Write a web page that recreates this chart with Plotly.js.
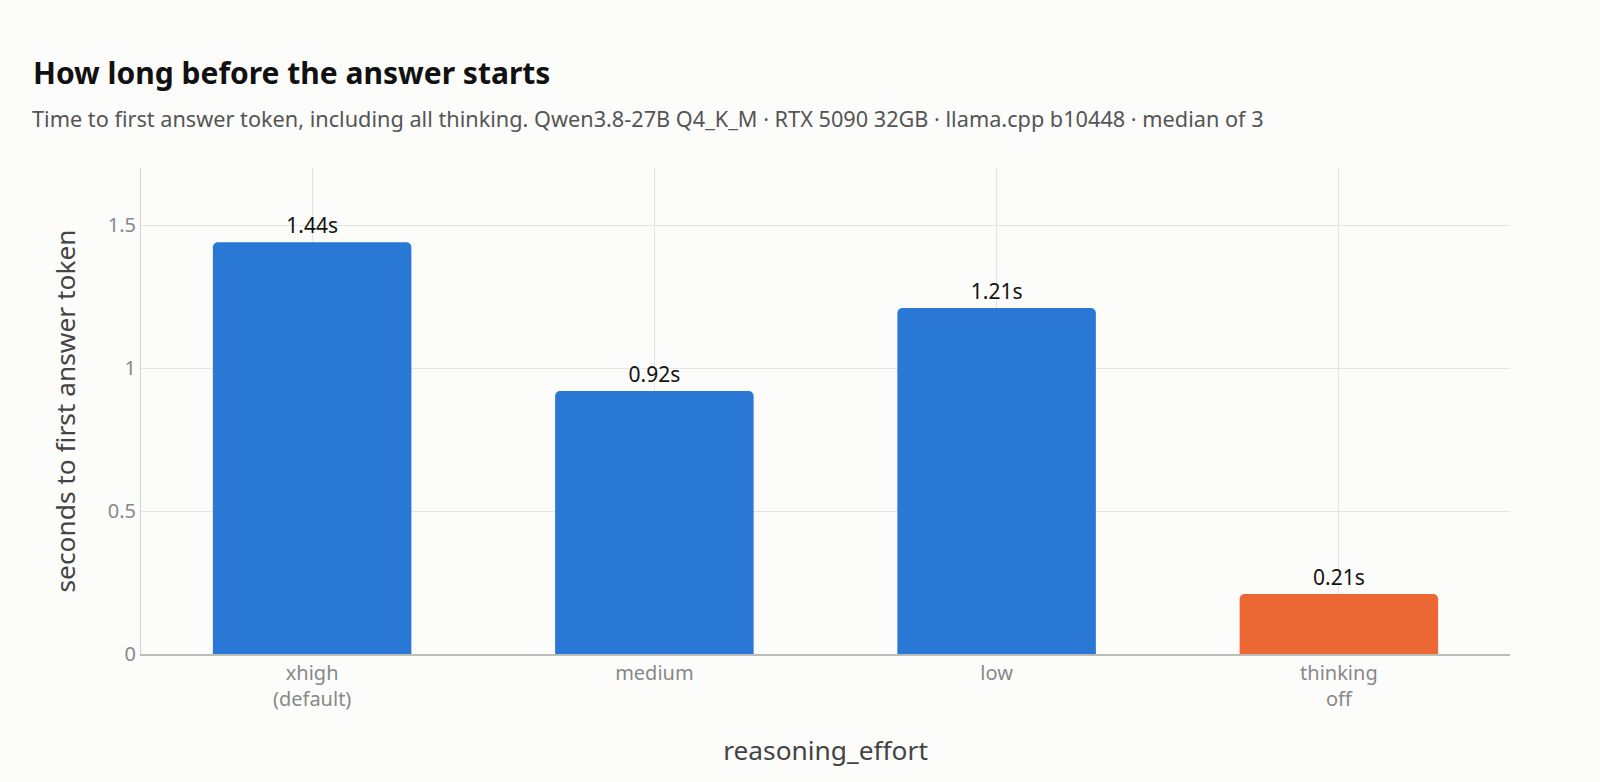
<!DOCTYPE html>
<html>
<head>
<meta charset="utf-8">
<script src="https://cdn.plot.ly/plotly-3.0.1.min.js"></script>
<style>
  html, body { margin: 0; padding: 0; background: #fcfcfb; overflow: hidden; }
  #plot { width: 1600px; height: 782px; }
</style>
</head>
<body>
<div id="plot"></div>
<script>
// categories and median time to first answer token (seconds)
var efforts = ['xhigh<br>(default)', 'medium', 'low', 'thinking<br>off'];
var seconds = [1.44, 0.92, 1.21, 0.21];
var barColors = ['#2a78d6', '#2a78d6', '#2a78d6', '#eb6834'];

var subtitle = 'Time to first answer token, including all thinking. Qwen3.8-27B Q4_K_M · RTX 5090 32GB · llama.cpp b10448 · median of 3';
var font = '"Segoe UI", "Noto Sans", "Open Sans", sans-serif';

var data = [{
  type: 'bar',
  x: efforts,
  y: seconds,
  marker: { color: barColors },
  texttemplate: '%{y:.2f}s',
  textposition: 'outside',
  textfont: { size: 21, color: '#111' },
  cliponaxis: false,
  hoverinfo: 'x+y'
}];

var layout = {
  width: 1600,
  height: 782,
  paper_bgcolor: '#fcfcfb',
  plot_bgcolor: '#fcfcfb',
  font: { family: font, color: '#444' },
  margin: { l: 141, r: 90, t: 168, b: 128 },
  bargap: 0.42,
  barcornerradius: 5,
  showlegend: false,
  title: {
    text: '<b>How long before the answer starts</b>',
    font: { size: 30, color: '#111' },
    xref: 'container', x: 33 / 1600, xanchor: 'left',
    yref: 'container', y: 0.906, yanchor: 'middle'
  },
  // subtitle sits under the title, left-aligned with it
  annotations: [{
    text: subtitle,
    xref: 'paper', yref: 'paper',
    x: -0.0812, y: 1.102,
    xanchor: 'left', yanchor: 'middle',
    showarrow: false,
    font: { size: 21.7, color: '#555' }
  }],
  xaxis: {
    type: 'category',
    showgrid: true,
    gridcolor: '#e3e3e0',
    showline: true,
    linecolor: '#bdbdb8',
    linewidth: 1.5,
    ticks: '',
    tickfont: { size: 20, color: '#888' },
    title: { text: 'reasoning_effort', font: { size: 26.3, color: '#444' }, standoff: 31 }
  },
  yaxis: {
    range: [0, 1.7],
    tickvals: [0, 0.5, 1, 1.5],
    ticktext: ['0', '0.5', '1', '1.5'],
    showgrid: true,
    gridcolor: '#e3e3e0',
    zeroline: false,
    showline: true,
    linecolor: '#d0d0cc',
    linewidth: 1,
    ticks: '',
    tickfont: { size: 20, color: '#888' },
    title: { text: 'seconds to first answer token', font: { size: 26.3, color: '#444' }, standoff: 24 }
  }
};

Plotly.newPlot('plot', data, layout, { displayModeBar: false });
</script>
</body>
</html>
